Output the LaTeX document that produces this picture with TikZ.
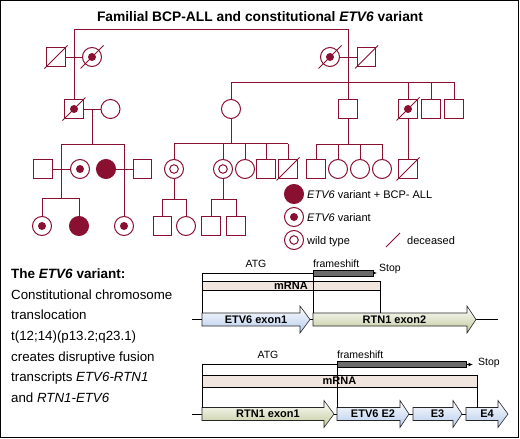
\documentclass[tikz,border=0pt]{standalone}
\usepackage{fontspec}
\setmainfont{Liberation Sans}
\usetikzlibrary{arrows.meta,calc}
\definecolor{pedred}{RGB}{138,16,50}
\definecolor{exblue}{RGB}{180,202,236}
\definecolor{exgreen}{RGB}{192,200,152}
\definecolor{mrnafill}{RGB}{241,229,223}
\tikzset{
  pline/.style={draw=pedred, line width=1pt},
  male/.style={rectangle, draw=pedred, line width=1pt, minimum size=18.5pt, inner sep=0pt, fill=white},
  female/.style={circle, draw=pedred, line width=1pt, minimum size=19pt, inner sep=0pt, fill=white},
  carrier/.style={path picture={\fill[pedred] (path picture bounding box.center) circle (4pt);}},
  wildtype/.style={path picture={\draw[pedred, line width=1pt] (path picture bounding box.center) circle (4.3pt);}},
  affected/.style={fill=pedred},
  legtxt/.style={anchor=base west, inner sep=0pt, font=\fontsize{11}{13}\selectfont},
  ltxt/.style={anchor=base west, inner sep=0pt, font=\fontsize{13.3}{16}\selectfont},
  gline/.style={draw=black, line width=0.8pt},
  fsbar/.style={draw=black, line width=0.6pt, fill=black!58},
  mrnabox/.style={draw=black, line width=0.8pt, fill=mrnafill},
  exlab/.style={inner sep=0pt, font=\bfseries\fontsize{11}{13}\selectfont},
  smalltxt/.style={inner sep=0pt, font=\fontsize{10.5}{12}\selectfont},
  protarrow/.style={gline, -{Latex[length=4.5pt,width=4pt]}},
}
\newcommand\deadmark[1]{\draw[pline] ([shift={(-11.5pt,-11.5pt)}]#1.center) -- ([shift={(11.5pt,11.5pt)}]#1.center);}
\newcommand\exon[7]{%
  \path[draw=black!85, line width=0.6pt, top color=white, bottom color=#6]
    (#2,#5-6.5) -- (#3,#5-6.5) -- (#3,#5-13.5) -- (#4,#5) -- (#3,#5+13.5) -- (#3,#5+6.5) -- (#2,#5+6.5) -- cycle;
  \node[exlab] (#1) at ({(#2+#4)/2},#5) {#7};
}
\begin{document}
\begin{tikzpicture}[x=1pt,y=-1pt]
\useasboundingbox (0,0) rectangle (520,439);
\draw[line width=1.4pt] (0.8,0.8) rectangle (518.6,437.4);

% title
\node[anchor=base, inner sep=0pt, font=\bfseries\fontsize{13.8}{16}\selectfont] (title) at (260,21)
  {Familial BCP-ALL and constitutional \textit{ETV6} variant};

% ---------- pedigree nodes ----------
% generation I
\node[male] (I1) at (56,57) {};
\node[female, carrier] (I2) at (92,57) {};
\node[female, carrier] (I3) at (330,57) {};
\node[male] (I4) at (366.5,57) {};
% generation II
\node[male, carrier] (II1) at (74,109) {};
\node[female] (II2) at (110.5,109) {};
\node[female] (II3) at (231,109) {};
\node[male] (II4) at (348,109) {};
\node[male, carrier] (II5) at (408,109) {};
\node[male] (II6) at (431,109) {};
\node[male] (II7) at (454,109) {};
% generation III
\node[male] (III1) at (43,169) {};
\node[female, carrier] (III2) at (80,169) {};
\node[female, affected] (III3) at (106,169) {};
\node[male] (III4) at (142.5,169) {};
\node[female, wildtype] (III5) at (174,169) {};
\node[female, wildtype] (III6) at (223,169) {};
\node[female] (III7) at (245,169) {};
\node[male] (III8) at (266,169) {};
\node[male] (III9) at (288,169) {};
\node[male] (III10) at (316,169) {};
\node[female] (III11) at (338,169) {};
\node[female] (III12) at (360,169) {};
\node[female] (III13) at (382,169) {};
\node[male] (III14) at (408,169) {};
% generation IV
\node[female, carrier] (IV1) at (42,226) {};
\node[female, affected] (IV2) at (79,226) {};
\node[female, carrier] (IV3) at (124,226) {};
\node[male] (IV4) at (162.5,226) {};
\node[female] (IV5) at (186,226) {};
\node[male] (IV6) at (211,226) {};
\node[male] (IV7) at (236,226) {};

% ---------- pedigree lines ----------
\coordinate (tl1) at (74,29);
\coordinate (tl2) at (348,29);
\coordinate (sA1) at (231,82);
\coordinate (sA2) at (454,82);
\draw[pline] (tl1) -- (tl2);
\draw[pline] (tl1) -- (II1.north);
\draw[pline] (tl2) -- (tl2 |- sA1);
\draw[pline] (I1.east) -- (I2.west);
\draw[pline] (I3.east) -- (I4.west);
\draw[pline] (sA1) -- (sA2);
\draw[pline] (sA1) -- (II3.north);
\foreach \n in {II4,II5,II6,II7} \draw[pline] (\n.north |- sA1) -- (\n.north);

% left family
\draw[pline] (II1.east) -- (II2.west);
\coordinate (m2) at (92,109);
\coordinate (sB1) at (61,144);
\coordinate (sB2) at (124,144);
\draw[pline] (m2) -- (m2 |- sB1);
\draw[pline] (sB1) -- (sB2);
\coordinate (sC1) at (42,198);
\coordinate (sC2) at (79,198);
\draw[pline] (sB1) -- (sB1 |- sC1);
\draw[pline] (sB2) -- (IV3.north);
\draw[pline] (III1.east) -- (III2.west);
\draw[pline] (III3.east) -- (III4.west);
\draw[pline] (sC1) -- (sC2);
\draw[pline] (sC1) -- (IV1.north);
\draw[pline] (sC2) -- (IV2.north);

% middle family
\coordinate (sD1) at (174,143.5);
\coordinate (sD2) at (288,143.5);
\draw[pline] (II3.south) -- (II3.south |- sD1);
\draw[pline] (sD1) -- (sD2);
\foreach \n in {III5,III6,III7,III8,III9} \draw[pline] (\n.north |- sD1) -- (\n.north);
\coordinate (sE1) at (162.5,199);
\coordinate (sE2) at (186,199);
\draw[pline] (III5.south) -- (III5.south |- sE1);
\draw[pline] (sE1) -- (sE2);
\draw[pline] (sE1) -- (IV4.north);
\draw[pline] (sE2) -- (IV5.north);
\coordinate (sF1) at (211,199);
\coordinate (sF2) at (236,199);
\draw[pline] (III6.south) -- (III6.south |- sF1);
\draw[pline] (sF1) -- (sF2);
\draw[pline] (sF1) -- (IV6.north);
\draw[pline] (sF2) -- (IV7.north);

% right family
\coordinate (sG1) at (316,144);
\coordinate (sG2) at (382,144);
\draw[pline] (II4.south) -- (II4.south |- sG1);
\draw[pline] (sG1) -- (sG2);
\foreach \n in {III10,III11,III12,III13} \draw[pline] (\n.north |- sG1) -- (\n.north);
\draw[pline] (II5.south) -- (III14.north);

% deceased marks
\foreach \n in {I1,I2,I3,I4,II1,II5,III9,III14} {\deadmark{\n}}

% ---------- legend ----------
\node[female, affected] (L1) at (294,194) {};
\node[female, carrier] (L2) at (294,217) {};
\node[female, wildtype] (L3) at (294,240) {};
\node[legtxt] (L1t) at (307,198) {\textit{ETV6} variant + BCP- ALL};
\node[legtxt] (L2t) at (307,221) {\textit{ETV6} variant};
\node[legtxt] (L3t) at (307,244) {wild type};
\coordinate (ds1) at (386,247);
\coordinate (ds2) at (400,233);
\draw[pline] (ds1) -- (ds2);
\node[legtxt] (L4t) at (407,244) {deceased};

% ---------- left text ----------
\node[ltxt, font=\bfseries\fontsize{13.5}{16}\selectfont] (tx1) at (11,278) {The \textit{ETV6} variant:};
\node[ltxt] (tx2) at (11,299) {Constitutional chromosome};
\node[ltxt] (tx3) at (11,319.7) {translocation};
\node[ltxt] (tx4) at (11,340.4) {t(12;14)(p13.2;q23.1)};
\node[ltxt] (tx5) at (11,361) {creates disruptive fusion};
\node[ltxt] (tx6) at (11,381.8) {transcripts \textit{ETV6-RTN1}};
\node[ltxt] (tx7) at (11,402.5) {and \textit{RTN1-ETV6}};

% ---------- ETV6-RTN1 transcript ----------
\coordinate (ta1) at (202,273);
\coordinate (ta2) at (377,273);
\coordinate (tb1) at (192,319.5);
\coordinate (tb2) at (498,319.5);
\draw[gline] (tb1) -- (tb2);
\exon{tex1}{202}{300}{310}{319.5}{exblue}{ETV6 exon1}
\exon{tex2}{313}{467}{476}{319.5}{exgreen}{RTN1 exon2}
\draw[mrnabox] (202,281) rectangle (380,290);
\node[exlab] (tm) at (291,285.7) {mRNA};
\draw[gline] (ta1) -- (202,313);
\draw[gline] (313,270) -- (313,313);
\draw[gline] (380,290) -- (380,313);
\draw[protarrow] (ta1) -- (ta2);
\draw[fsbar] (313,270) rectangle (373,276);
\node[smalltxt, anchor=base] (tatg) at (256,267) {ATG};
\node[smalltxt, anchor=base west] (tfs) at (313,267) {frameshift};
\node[smalltxt, anchor=base west] (tstop) at (379,271) {Stop};

% ---------- RTN1-ETV6 transcript ----------
\coordinate (ba1) at (202,364.5);
\coordinate (ba2) at (473,364.5);
\coordinate (bb1) at (192,414);
\coordinate (bb2) at (466,414);
\draw[gline] (bb1) -- (bb2);
\exon{bex1}{202}{324}{334}{414}{exgreen}{RTN1 exon1}
\exon{bex2}{337}{400}{409}{414}{exblue}{ETV6 E2}
\exon{bex3}{413}{453}{462}{414}{exblue}{E3}
\exon{bex4}{466}{498}{508}{414}{exblue}{E4}
\draw[mrnabox] (202,375) rectangle (477,387);
\node[exlab] (bm) at (339.5,381.2) {mRNA};
\draw[gline] (ba1) -- (202,407.5);
\draw[gline] (337,361.5) -- (337,407.5);
\draw[gline] (477,387) -- (477,407.5);
\draw[protarrow] (ba1) -- (ba2);
\draw[fsbar] (337,361.5) rectangle (466,367.5);
\node[smalltxt, anchor=base] (batg) at (268,358) {ATG};
\node[smalltxt, anchor=base west] (bfs) at (337,358) {frameshift};
\node[smalltxt, anchor=base west] (bstop) at (478,365) {Stop};
\end{tikzpicture}
\end{document}
